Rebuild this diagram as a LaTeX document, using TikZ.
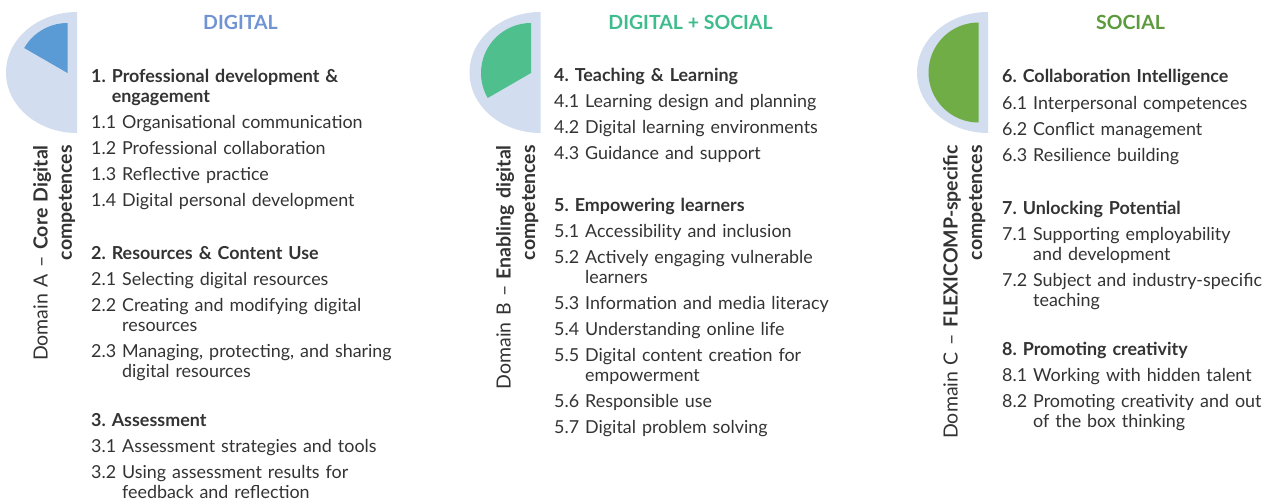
\documentclass[tikz,border=0pt]{standalone}
\usepackage{fontspec}
\setmainfont{Lato}
\frenchspacing

\definecolor{txtgray}{HTML}{333333}
\definecolor{palebg}{HTML}{D2DEEF}
\definecolor{digblue}{HTML}{5B9BD5}
\definecolor{digtitle}{HTML}{6F93D3}
\definecolor{mixgreen}{HTML}{4FC08D}
\definecolor{mixtitle}{HTML}{3DBD8B}
\definecolor{socgreen}{HTML}{70AD47}
\definecolor{soctitle}{HTML}{5C9A3D}

\begin{document}
\begin{tikzpicture}[x=1pt, y=1pt,
    every node/.style={inner sep=0pt, text=txtgray},
    coltitle/.style={font=\fontsize{19.5}{22}\selectfont\bfseries},
    block/.style={anchor=base west, align=left, text width=330pt, font=\fontsize{17.9}{20}\selectfont},
    domainlabel/.style={rotate=90, anchor=base east, align=right, text width=340pt, font=\fontsize{19.5}{24.5}\selectfont}]
    \useasboundingbox (0,0) rectangle (1272,-503);

    % Half discs with the share of each domain
    \fill[palebg] (77,-12) arc[start angle=90, end angle=270, x radius=71, y radius=60.5] -- cycle;
    \fill[digblue] (67.5,-73) -- ++(0,50) arc[start angle=90, end angle=150, radius=50] -- cycle;

    \fill[palebg] (540.5,-12) arc[start angle=90, end angle=270, x radius=71, y radius=60.5] -- cycle;
    \fill[mixgreen] (531,-73) -- ++(0,50) arc[start angle=90, end angle=210, radius=50] -- cycle;

    \fill[palebg] (988,-12) arc[start angle=90, end angle=270, x radius=71, y radius=60.5] -- cycle;
    \fill[socgreen] (978.5,-72.5) -- ++(0,50) arc[start angle=90, end angle=270, radius=50] -- cycle;

    % Column titles
    \node[coltitle, text=digtitle] (titleA) at (240.5,-22) {DIGITAL};
    \node[coltitle, text=mixtitle] (titleB) at (690.5,-22) {DIGITAL + SOCIAL};
    \node[coltitle, text=soctitle] (titleC) at (1130.5,-22) {SOCIAL};

    % Domain labels, read bottom to top
    \node[domainlabel] (domainA) at (47.5,-145) {Domain A -- \textbf{Core Digital}\\\textbf{competences}};
    \node[domainlabel] (domainB) at (510.5,-145) {Domain B -- \textbf{Enabling digital}\\\textbf{competences}};
    \node[domainlabel] (domainC) at (957.5,-145) {Domain C -- \textbf{FLEXICOMP-specific}\\\textbf{competences}};

    % Domain A
    \node[block] (sec1) at (91,-83) {\textbf{1. Professional development \&}\\
        \textbf{\phantom{1.}\ engagement}\\[6pt]
        1.1 Organisational communication\\[6pt]
        1.2 Professional collaboration\\[6pt]
        1.3 Reflective practice\\[6pt]
        1.4 Digital personal development};
    \node[block] (sec2) at (91,-259) {\textbf{2. Resources \& Content Use}\\[6pt]
        2.1 Selecting digital resources\\[6pt]
        2.2 Creating and modifying digital\\
        \phantom{2.2}\ resources\\[6pt]
        2.3 Managing, protecting, and sharing\\
        \phantom{2.3}\ digital resources};
    \node[block] (sec3) at (91,-426) {\textbf{3. Assessment}\\[6pt]
        3.1 Assessment strategies and tools\\[6pt]
        3.2 Using assessment results for\\
        \phantom{3.2}\ feedback and reflection};

    % Domain B
    \node[block] (sec4) at (554,-81.5) {\textbf{4. Teaching \& Learning}\\[6pt]
        4.1 Learning design and planning\\[6pt]
        4.2 Digital learning environments\\[6pt]
        4.3 Guidance and support};
    \node[block] (sec5) at (554,-211) {\textbf{5. Empowering learners}\\[6pt]
        5.1 Accessibility and inclusion\\[6pt]
        5.2 Actively engaging vulnerable\\
        \phantom{5.2}\ learners\\[6pt]
        5.3 Information and media literacy\\[6pt]
        5.4 Understanding online life\\[6pt]
        5.5 Digital content creation for\\
        \phantom{5.5}\ empowerment\\[6pt]
        5.6 Responsible use\\[6pt]
        5.7 Digital problem solving};

    % Domain C
    \node[block] (sec6) at (1002,-83) {\textbf{6. Collaboration Intelligence}\\[6pt]
        6.1 Interpersonal competences\\[6pt]
        6.2 Conflict management\\[6pt]
        6.3 Resilience building};
    \node[block] (sec7) at (1002,-214) {\textbf{7. Unlocking Potential}\\[6pt]
        7.1 Supporting employability\\
        \phantom{7.1}\ and development\\[6pt]
        7.2 Subject and industry-specific\\
        \phantom{7.2}\ teaching};
    \node[block] (sec8) at (1002,-355) {\textbf{8. Promoting creativity}\\[6pt]
        8.1 Working with hidden talent\\[6pt]
        8.2 Promoting creativity and out\\
        \phantom{8.2}\ of the box thinking};
\end{tikzpicture}
\end{document}
